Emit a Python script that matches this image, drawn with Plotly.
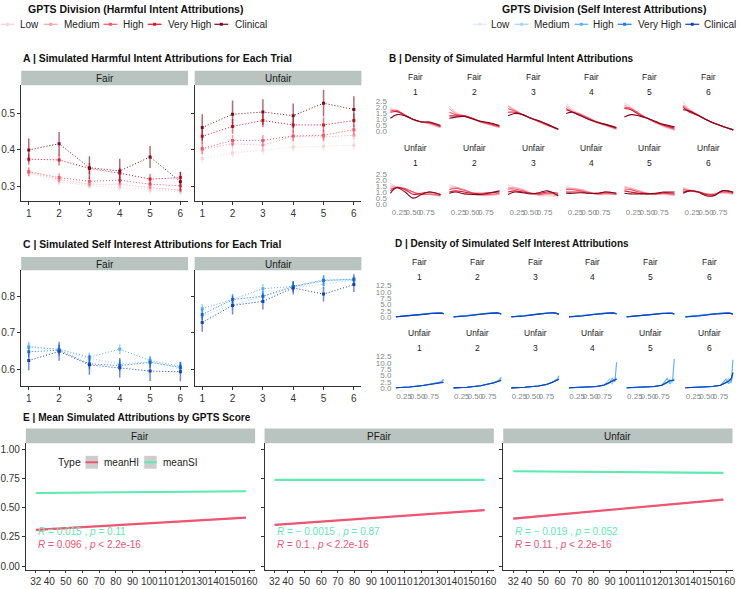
import plotly.graph_objects as go

W, H = 740, 589
FONT = "Liberation Sans, Arial, Helvetica, sans-serif"
DARK = "#333333"
STRIP = "#B9C3BF"
TICKGRAY = "#7F8A8A"

# ---------------- data ----------------
GROUPS = ["Low", "Medium", "High", "Very High", "Clinical"]
HI_COLORS = ["#F9D3D8", "#F7A3AD", "#F4566A", "#E0142E", "#7D0A1C"]
SI_COLORS = ["#DCEAF7", "#9ED8F0", "#57B2F2", "#2478E6", "#1240C2"]
TRIALS = [1, 2, 3, 4, 5, 6]
CONDITIONS = ["Fair", "Unfair"]

# Panel A: harmful intent means / error half-widths (rows = groups Low..Clinical)
HI_FAIR_MEAN = [
    [0.338, 0.314, 0.303, 0.298, 0.291, 0.287],
    [0.340, 0.320, 0.307, 0.307, 0.298, 0.291],
    [0.341, 0.325, 0.315, 0.318, 0.307, 0.303],
    [0.375, 0.373, 0.350, 0.337, 0.321, 0.325],
    [0.400, 0.417, 0.352, 0.343, 0.381, 0.314],
]
HI_FAIR_ERR = [
    [0.009, 0.009, 0.009, 0.010, 0.009, 0.009],
    [0.010, 0.010, 0.010, 0.010, 0.010, 0.010],
    [0.012, 0.012, 0.012, 0.012, 0.012, 0.012],
    [0.015, 0.015, 0.015, 0.015, 0.014, 0.015],
    [0.031, 0.032, 0.031, 0.033, 0.030, 0.027],
]
HI_UNFAIR_MEAN = [
    [0.377, 0.392, 0.399, 0.408, 0.410, 0.413],
    [0.401, 0.417, 0.413, 0.437, 0.435, 0.440],
    [0.404, 0.426, 0.426, 0.438, 0.440, 0.455],
    [0.437, 0.464, 0.480, 0.468, 0.468, 0.480],
    [0.461, 0.497, 0.503, 0.493, 0.527, 0.510],
]
HI_UNFAIR_ERR = [
    [0.012, 0.012, 0.012, 0.012, 0.012, 0.012],
    [0.013, 0.013, 0.013, 0.013, 0.013, 0.013],
    [0.015, 0.015, 0.015, 0.015, 0.015, 0.015],
    [0.020, 0.020, 0.018, 0.020, 0.020, 0.019],
    [0.036, 0.037, 0.035, 0.033, 0.036, 0.036],
]

# Panel C: self interest means / error half-widths
SI_FAIR_MEAN = [
    [0.665, 0.652, 0.625, 0.612, 0.615, 0.600],
    [0.663, 0.654, 0.630, 0.615, 0.620, 0.603],
    [0.660, 0.655, 0.633, 0.655, 0.624, 0.608],
    [0.648, 0.652, 0.615, 0.610, 0.619, 0.605],
    [0.624, 0.649, 0.612, 0.604, 0.595, 0.593],
]
SI_FAIR_ERR = [
    [0.012, 0.012, 0.012, 0.012, 0.012, 0.012],
    [0.013, 0.013, 0.013, 0.013, 0.013, 0.013],
    [0.013, 0.013, 0.013, 0.013, 0.013, 0.013],
    [0.015, 0.015, 0.015, 0.015, 0.015, 0.015],
    [0.027, 0.026, 0.027, 0.027, 0.027, 0.026],
]
SI_UNFAIR_MEAN = [
    [0.760, 0.785, 0.810, 0.826, 0.840, 0.848],
    [0.746, 0.776, 0.800, 0.824, 0.833, 0.845],
    [0.766, 0.791, 0.821, 0.827, 0.845, 0.845],
    [0.750, 0.791, 0.800, 0.827, 0.843, 0.847],
    [0.728, 0.775, 0.786, 0.823, 0.806, 0.832],
]
SI_UNFAIR_ERR = [
    [0.012, 0.012, 0.012, 0.012, 0.012, 0.012],
    [0.013, 0.013, 0.013, 0.013, 0.013, 0.013],
    [0.013, 0.013, 0.013, 0.013, 0.013, 0.013],
    [0.015, 0.015, 0.015, 0.015, 0.015, 0.015],
    [0.025, 0.025, 0.022, 0.018, 0.020, 0.020],
]

# Panel B: density curves of harmful intent (per trial, per group)
HI_DENS_X = [0.08, 0.2, 0.35, 0.5, 0.65, 0.8, 1.0]
HI_DENS_FAIR = [
    [[1.9, 1.7, 1.3, 1.0, 0.8, 0.6, 0.3], [1.85, 1.7, 1.3, 1.0, 0.8, 0.65, 0.35],
     [1.7, 1.75, 1.35, 1.0, 0.8, 0.7, 0.4], [1.6, 1.65, 1.35, 1.0, 0.8, 0.75, 0.45],
     [1.1, 1.4, 1.3, 1.0, 0.8, 0.8, 0.5]],
    [[2.1, 1.6, 1.3, 1.1, 0.8, 0.6, 0.3], [1.9, 1.5, 1.3, 1.1, 0.8, 0.6, 0.35],
     [1.6, 1.4, 1.3, 1.1, 0.8, 0.65, 0.4], [1.3, 1.3, 1.3, 1.1, 0.85, 0.7, 0.45],
     [1.1, 1.2, 1.25, 1.05, 0.85, 0.75, 0.5]],
    [[2.2, 1.8, 1.4, 1.1, 0.8, 0.5, 0.2], [2.1, 1.8, 1.4, 1.1, 0.8, 0.5, 0.2],
     [1.9, 1.7, 1.4, 1.1, 0.85, 0.55, 0.2], [1.6, 1.6, 1.4, 1.1, 0.85, 0.6, 0.2],
     [1.3, 1.5, 1.4, 1.1, 0.9, 0.6, 0.2]],
    [[2.3, 1.8, 1.4, 1.0, 0.7, 0.5, 0.2], [2.1, 1.7, 1.45, 1.1, 0.75, 0.5, 0.2],
     [1.9, 1.6, 1.4, 1.1, 0.8, 0.55, 0.25], [1.8, 1.6, 1.3, 1.0, 0.8, 0.6, 0.3],
     [1.5, 1.6, 1.3, 1.0, 0.75, 0.6, 0.35]],
    [[2.4, 2.0, 1.5, 1.1, 0.7, 0.4, 0.1], [2.2, 1.9, 1.5, 1.1, 0.75, 0.45, 0.15],
     [2.0, 1.9, 1.5, 1.1, 0.8, 0.5, 0.2], [1.9, 1.8, 1.4, 1.1, 0.8, 0.55, 0.3],
     [1.2, 1.4, 1.3, 1.1, 0.85, 0.6, 0.4]],
    [[2.5, 1.8, 1.4, 1.0, 0.7, 0.45, 0.15], [2.2, 1.8, 1.4, 1.0, 0.7, 0.45, 0.15],
     [2.1, 1.7, 1.4, 1.0, 0.7, 0.45, 0.15], [2.0, 1.6, 1.35, 1.0, 0.7, 0.45, 0.15],
     [1.8, 1.7, 1.35, 1.0, 0.7, 0.45, 0.15]],
]
HI_DENS_UNFAIR = [
    [[1.7, 1.4, 1.2, 0.9, 0.8, 0.8, 0.6], [1.5, 1.4, 1.3, 1.0, 0.8, 0.8, 0.7],
     [1.3, 1.35, 1.3, 1.0, 0.8, 0.85, 0.7], [1.1, 1.4, 1.2, 0.8, 0.9, 1.0, 0.8],
     [0.9, 1.35, 1.0, 0.5, 0.8, 1.0, 0.8]],
    [[1.6, 1.4, 1.2, 0.9, 0.7, 0.7, 0.8], [1.4, 1.4, 1.2, 0.9, 0.75, 0.75, 0.85],
     [1.2, 1.3, 1.15, 0.95, 0.8, 0.8, 0.9], [1.0, 1.1, 1.0, 0.9, 0.9, 0.95, 1.0],
     [0.9, 1.0, 0.85, 0.8, 0.8, 0.9, 1.1]],
    [[1.6, 1.4, 1.2, 0.9, 0.7, 0.7, 0.6], [1.4, 1.35, 1.2, 0.9, 0.75, 0.8, 0.7],
     [1.25, 1.25, 1.1, 0.9, 0.8, 0.9, 0.8], [1.0, 1.1, 1.0, 0.9, 0.9, 1.0, 0.9],
     [0.8, 1.0, 0.95, 0.85, 0.95, 1.1, 0.7]],
    [[1.5, 1.3, 1.2, 1.0, 0.8, 0.8, 0.8], [1.3, 1.3, 1.2, 1.0, 0.8, 0.85, 0.8],
     [1.2, 1.2, 1.1, 0.95, 0.85, 0.9, 0.8], [1.0, 1.0, 1.0, 0.9, 0.9, 1.0, 0.9],
     [0.9, 0.9, 0.95, 0.9, 0.9, 1.0, 0.9]],
    [[1.5, 1.35, 1.1, 0.9, 0.8, 0.8, 0.7], [1.4, 1.3, 1.1, 0.9, 0.85, 0.85, 0.75],
     [1.25, 1.2, 1.0, 0.9, 0.85, 0.9, 0.8], [1.1, 1.0, 0.9, 0.85, 0.85, 0.95, 0.9],
     [0.9, 0.85, 0.85, 0.85, 0.9, 1.0, 1.0]],
    [[1.4, 1.2, 1.0, 0.8, 0.9, 0.9, 0.8], [1.3, 1.15, 1.0, 0.85, 0.85, 0.95, 0.85],
     [1.2, 1.1, 1.0, 0.85, 0.8, 1.0, 0.9], [1.0, 1.1, 1.05, 0.8, 0.75, 1.1, 0.95],
     [0.9, 1.1, 1.0, 0.7, 0.7, 1.1, 1.0]],
]

# Panel D: density curves of self interest
SI_DENS_X = [0.1, 0.35, 0.6, 0.75, 0.85, 0.9, 0.95, 0.98]
SI_DENS_FAIR = [
    [[0.3, 0.7, 1.3, 1.6, 1.8, 1.75, 1.6, 1.3], [0.3, 0.7, 1.3, 1.65, 1.8, 1.8, 1.6, 1.35],
     [0.3, 0.7, 1.25, 1.6, 1.8, 1.8, 1.65, 1.4], [0.3, 0.65, 1.2, 1.6, 1.75, 1.8, 1.7, 1.45],
     [0.25, 0.6, 1.2, 1.55, 1.75, 1.8, 1.7, 1.5]],
    [[0.3, 0.7, 1.4, 1.8, 1.9, 1.8, 1.5, 1.2], [0.3, 0.7, 1.35, 1.75, 1.9, 1.8, 1.55, 1.25],
     [0.3, 0.7, 1.3, 1.7, 1.85, 1.8, 1.6, 1.3], [0.3, 0.65, 1.3, 1.7, 1.85, 1.8, 1.6, 1.35],
     [0.25, 0.6, 1.25, 1.65, 1.85, 1.8, 1.65, 1.4]],
    [[0.3, 0.7, 1.4, 1.8, 1.9, 1.8, 1.5, 1.2], [0.3, 0.7, 1.4, 1.8, 1.9, 1.8, 1.5, 1.2],
     [0.3, 0.7, 1.35, 1.75, 1.9, 1.8, 1.55, 1.25], [0.3, 0.65, 1.3, 1.7, 1.85, 1.8, 1.6, 1.3],
     [0.25, 0.6, 1.3, 1.7, 1.85, 1.8, 1.6, 1.3]],
    [[0.3, 0.7, 1.35, 1.7, 1.85, 1.8, 1.6, 1.3], [0.3, 0.7, 1.35, 1.7, 1.85, 1.8, 1.6, 1.3],
     [0.3, 0.7, 1.3, 1.7, 1.8, 1.8, 1.6, 1.35], [0.3, 0.65, 1.3, 1.65, 1.8, 1.8, 1.65, 1.4],
     [0.25, 0.6, 1.25, 1.6, 1.8, 1.8, 1.65, 1.45]],
    [[0.3, 0.7, 1.3, 1.65, 1.8, 1.75, 1.5, 1.2], [0.3, 0.7, 1.3, 1.65, 1.8, 1.75, 1.5, 1.25],
     [0.3, 0.7, 1.3, 1.6, 1.75, 1.75, 1.55, 1.3], [0.3, 0.65, 1.25, 1.6, 1.75, 1.75, 1.6, 1.3],
     [0.25, 0.6, 1.2, 1.55, 1.7, 1.75, 1.6, 1.35]],
    [[0.3, 0.7, 1.35, 1.7, 1.75, 1.7, 1.5, 1.2], [0.3, 0.7, 1.35, 1.7, 1.75, 1.7, 1.5, 1.2],
     [0.3, 0.7, 1.3, 1.65, 1.75, 1.7, 1.55, 1.25], [0.3, 0.65, 1.3, 1.65, 1.7, 1.7, 1.55, 1.3],
     [0.25, 0.6, 1.25, 1.6, 1.7, 1.7, 1.6, 1.3]],
]
SI_DENS_UNFAIR = [
    [[0.15, 0.4, 1.0, 1.5, 2.0, 2.4, 2.9, 3.4], [0.15, 0.4, 1.0, 1.5, 2.0, 2.3, 2.7, 3.1],
     [0.15, 0.4, 1.0, 1.5, 2.0, 2.3, 2.6, 3.6], [0.15, 0.4, 1.0, 1.5, 1.95, 2.2, 2.4, 2.4],
     [0.15, 0.4, 1.0, 1.5, 1.9, 2.1, 2.2, 2.2]],
    [[0.1, 0.3, 0.9, 1.5, 2.2, 2.8, 3.5, 4.2], [0.1, 0.3, 0.9, 1.5, 2.2, 2.7, 3.3, 4.0],
     [0.1, 0.3, 0.9, 1.5, 2.2, 2.6, 3.1, 4.3], [0.1, 0.3, 0.9, 1.5, 2.1, 2.5, 3.0, 3.2],
     [0.1, 0.3, 0.9, 1.5, 2.1, 2.5, 2.9, 3.0]],
    [[0.1, 0.3, 0.8, 1.4, 2.3, 3.0, 3.8, 4.9], [0.1, 0.3, 0.8, 1.4, 2.3, 2.9, 3.6, 4.5],
     [0.1, 0.3, 0.8, 1.4, 2.2, 2.8, 3.4, 4.9], [0.1, 0.3, 0.8, 1.4, 2.2, 2.7, 3.3, 3.6],
     [0.1, 0.3, 0.8, 1.4, 2.2, 2.7, 3.2, 3.4]],
    [[0.1, 0.2, 0.5, 1.0, 2.0, 2.6, 3.0, 3.4], [0.1, 0.2, 0.6, 1.2, 3.6, 1.5, 4.2, 3.5],
     [0.1, 0.2, 0.5, 1.0, 2.0, 3.8, 2.5, 10.2], [0.1, 0.25, 0.6, 1.2, 2.4, 2.9, 3.4, 3.6],
     [0.1, 0.25, 0.6, 1.2, 2.3, 2.8, 3.3, 3.5]],
    [[0.1, 0.2, 0.5, 1.0, 2.2, 2.8, 3.0, 3.2], [0.1, 0.2, 0.6, 1.0, 2.0, 3.5, 2.4, 4.0],
     [0.1, 0.2, 0.5, 1.2, 3.8, 1.6, 3.2, 11.5], [0.1, 0.2, 0.6, 1.1, 2.3, 2.9, 3.1, 3.1],
     [0.1, 0.2, 0.6, 1.1, 2.3, 2.9, 3.1, 3.1]],
    [[0.1, 0.2, 0.6, 1.1, 2.1, 2.7, 3.4, 4.5], [0.1, 0.2, 0.6, 1.2, 2.0, 4.0, 2.0, 5.0],
     [0.1, 0.2, 0.6, 1.0, 3.5, 1.8, 2.5, 11.2], [0.1, 0.2, 0.6, 1.1, 2.2, 2.7, 3.7, 5.9],
     [0.1, 0.2, 0.6, 1.1, 2.2, 2.7, 3.8, 6.2]],
]

# Panel E: linear fits of mean attributions by GPTS score
E_FACETS = ["Fair", "PFair", "Unfair"]
E_X = [32, 158]
E_TYPES = ["meanHI", "meanSI"]
E_TYPE_COLORS = ["#EF5470", "#5EEAB0"]
E_HI_FIT = [[0.310, 0.414], [0.352, 0.479], [0.406, 0.569]]
E_SI_FIT = [[0.625, 0.640], [0.738, 0.737], [0.811, 0.797]]
E_HI_CI = [0.007, 0.007, 0.009]
E_SI_CI = [0.004, 0.004, 0.005]
E_SI_LABELS = ["<i>R</i> = 0.015 , <i>p</i> = 0.11",
               "<i>R</i> = \u2212 0.0015 , <i>p</i> = 0.87",
               "<i>R</i> = \u2212 0.019 , <i>p</i> = 0.052"]
E_HI_LABELS = ["<i>R</i> = 0.096 , <i>p</i> < 2.2e-16",
               "<i>R</i> = 0.1 , <i>p</i> < 2.2e-16",
               "<i>R</i> = 0.11 , <i>p</i> < 2.2e-16"]
E_XTICKS = [32, 40, 50, 60, 70, 80, 90, 100, 110, 120, 130, 140, 150, 160]


# ---------------- helpers ----------------
def fx(px):
    return px / W


def fy(py):
    return 1 - py / H


def rgba(hex_color, a):
    h = hex_color.lstrip("#")
    r, g, b = int(h[0:2], 16), int(h[2:4], 16), int(h[4:6], 16)
    return f"rgba({r},{g},{b},{a})"


layout = {}
traces = []
shapes = []
annotations = []
_count = [0]

BASE_AX = dict(showgrid=False, zeroline=False, showline=False, ticks="",
               showticklabels=False, fixedrange=True)


def new_axes(x0, x1, y0, y1, xr, yr, xopts=None, yopts=None):
    _count[0] += 1
    n = _count[0]
    s = "" if n == 1 else str(n)
    xa = dict(BASE_AX, domain=[fx(x0), fx(x1)], range=xr, anchor="y" + s)
    ya = dict(BASE_AX, domain=[fy(y1), fy(y0)], range=yr, anchor="x" + s)
    xa.update(xopts or {})
    ya.update(yopts or {})
    layout["xaxis" + s] = xa
    layout["yaxis" + s] = ya
    return "x" + s, "y" + s


def text(x, y, s, size, color=DARK, bold=False, xanchor="center"):
    if bold:
        s = "<b>" + s + "</b>"
    annotations.append(dict(x=fx(x), y=fy(y), xref="paper", yref="paper", text=s,
                            showarrow=False, xanchor=xanchor, yanchor="middle",
                            font=dict(size=size, color=color, family=FONT)))


def strip(x0, x1, y0, y1, label, size=10):
    shapes.append(dict(type="rect", xref="paper", yref="paper", x0=fx(x0), x1=fx(x1),
                       y0=fy(y1), y1=fy(y0), fillcolor=STRIP, line=dict(width=0),
                       layer="below"))
    text((x0 + x1) / 2, (y0 + y1) / 2 + 0.5, label, size, color="#1A1A1A")


def classic(tickvals, ticktext, labels=True, size=10, ticklen=3):
    return dict(showline=True, linecolor=DARK, linewidth=1, ticks="outside",
                ticklen=ticklen, tickwidth=1, tickcolor=DARK, tickvals=tickvals,
                ticktext=ticktext, showticklabels=labels, tickangle=0,
                tickfont=dict(size=size, color=DARK, family=FONT))


# ---------------- top legends ----------------
def legend_row(title, title_x, key_xs, text_xs, colors):
    text(title_x, 6.5, title, 10.5, color="#111111", bold=True)
    for kx, tx, name, col in zip(key_xs, text_xs, GROUPS, colors):
        shapes.append(dict(type="line", xref="paper", yref="paper", x0=fx(kx - 7),
                           x1=fx(kx + 7), y0=fy(21.5), y1=fy(21.5),
                           line=dict(color=col, width=1.2)))
        shapes.append(dict(type="rect", xref="paper", yref="paper", x0=fx(kx - 1.5),
                           x1=fx(kx + 1.5), y0=fy(23), y1=fy(20),
                           fillcolor=col, line=dict(width=0)))
        text(tx, 21.5, name, 10, color="#222222", xanchor="left")


legend_row("GPTS Division (Harmful Intent Attributions)", 135,
           [6.5, 50, 110, 154.5, 221.5], [17.5, 61, 121, 166, 233.5], HI_COLORS)
legend_row("GPTS Division (Self Interest Attributions)", 606.5,
           [481.5, 523.5, 583.5, 627, 695], [490.5, 533.5, 593.5, 638.5, 705], SI_COLORS)


# ---------------- panels A & C ----------------
def trial_panel(title, title_y, strip_y0, top, bottom, yr, ytick, data, errs, colors):
    text(20, title_y, title, 10.4, color="#111111", bold=True, xanchor="left")
    domains = [(20.3, 188), (194.7, 362.4)]
    for ci, (cond, (x0, x1)) in enumerate(zip(CONDITIONS, domains)):
        strip(x0, x1, strip_y0, top, cond)
        xa, ya = new_axes(x0, x1, top, bottom, [0.75, 6.25], yr,
                          classic(TRIALS, [str(t) for t in TRIALS]),
                          classic(ytick, [f"{v:.1f}" for v in ytick], labels=(ci == 0)))
        for g in range(len(GROUPS)):
            col = colors[g]
            traces.append(go.Scatter(
                x=TRIALS, y=data[ci][g], xaxis=xa, yaxis=ya, mode="lines+markers",
                line=dict(color=col, width=1.0, dash="1px,2px"),
                marker=dict(color=col, size=3, symbol="square"),
                error_y=dict(type="data", array=errs[ci][g], color=rgba(col, 0.6),
                             thickness=1.5, width=0),
                showlegend=False, hoverinfo="skip"))


trial_panel("A | Simulated Harmful Intent Attributions for Each Trial", 56.5, 68.5, 83, 200,
            [0.2616, 0.576], [0.3, 0.4, 0.5], [HI_FAIR_MEAN, HI_UNFAIR_MEAN],
            [HI_FAIR_ERR, HI_UNFAIR_ERR], HI_COLORS)
trial_panel("C | Simulated Self Interest Attributions for Each Trial", 244, 256.7, 270, 386.5,
            [0.5552, 0.8714], [0.6, 0.7, 0.8], [SI_FAIR_MEAN, SI_UNFAIR_MEAN],
            [SI_FAIR_ERR, SI_UNFAIR_ERR], SI_COLORS)


# ---------------- panels B & D ----------------
def density_panel(title, title_x, title_y, centers, width, rows, xs, dens, colors,
                  yr, ytickvals, yticktext, shape):
    text(title_x, title_y, title, 10, color="#111111", bold=True, xanchor="left")
    for ri, (cond, strip_y, num_y, top, bottom, xlabels) in enumerate(rows):
        for ti, cx in enumerate(centers):
            text(cx, strip_y, cond, 8.5, color="#222222")
            text(cx, num_y, str(TRIALS[ti]), 8.5, color="#222222")
            xopts = dict(tickvals=[0.25, 0.5, 0.75], ticktext=["0.25", "0.50", "0.75"],
                         showticklabels=xlabels, tickangle=0,
                         tickfont=dict(size=8, color=TICKGRAY, family=FONT))
            yopts = dict(tickvals=ytickvals, ticktext=yticktext,
                         showticklabels=(ti == 0),
                         tickfont=dict(size=8, color=TICKGRAY, family=FONT))
            xa, ya = new_axes(cx - width / 2, cx + width / 2, top, bottom,
                              [0.034, 1.046], yr, xopts, yopts)
            for g in range(len(GROUPS)):
                traces.append(go.Scatter(
                    x=xs, y=dens[ri][ti][g], xaxis=xa, yaxis=ya, mode="lines",
                    line=dict(color=colors[g], width=1.1, shape=shape),
                    showlegend=False, hoverinfo="skip"))


density_panel("B | Density of Simulated Harmful Intent Attributions", 388, 55.7,
              [416.7, 476, 535, 593.5, 652, 711], 55.5,
              [("Fair", 74.3, 90, 97.8, 131.6, False),
               ("Unfair", 146, 161.7, 171.1, 204.9, True)],
              HI_DENS_X, [HI_DENS_FAIR, HI_DENS_UNFAIR], HI_COLORS,
              [-0.13, 2.62], [0, 0.5, 1.0, 1.5, 2.0, 2.5],
              ["0.0", "0.5", "1.0", "1.5", "2.0", "2.5"], "spline")
density_panel("D | Density of Simulated Self Interest Attributions", 394, 242.7,
              [421, 479, 537, 595, 653, 712], 55,
              [("Fair", 261.7, 277.3, 284, 319.4, False),
               ("Unfair", 333.3, 349, 355.8, 390.7, True)],
              SI_DENS_X, [SI_DENS_FAIR, SI_DENS_UNFAIR], SI_COLORS,
              [-0.65, 13.0], [0, 2.5, 5, 7.5, 10, 12.5],
              ["0.0", "2.5", "5.0", "7.5", "10.0", "12.5"], "linear")


# ---------------- panel E ----------------
text(20, 419, "E | Mean Simulated Attributions by GPTS Score", 10.1, color="#111111",
     bold=True, xanchor="left")
E_DOMAINS = [(25, 255.5), (265, 495.5), (505, 735.5)]
for fi, (facet, (x0, x1)) in enumerate(zip(E_FACETS, E_DOMAINS)):
    strip(x0, x1, 430, 444.8, facet)
    xa, ya = new_axes(x0, x1, 444.8, 572.5, [26, 163.5], [-0.03, 1.05],
                      classic(E_XTICKS, [str(v) for v in E_XTICKS], ticklen=2.5),
                      classic([0, 0.25, 0.5, 0.75, 1.0],
                              ["0.00", "0.25", "0.50", "0.75", "1.00"], labels=(fi == 0)))
    for fit, ci, col in ((E_HI_FIT[fi], E_HI_CI[fi], E_TYPE_COLORS[0]),
                         (E_SI_FIT[fi], E_SI_CI[fi], E_TYPE_COLORS[1])):
        xm = (E_X[0] + E_X[1]) / 2
        ym = (fit[0] + fit[1]) / 2
        bx = [E_X[0], xm, E_X[1], E_X[1], xm, E_X[0]]
        by = [fit[0] + ci, ym + ci * 0.4, fit[1] + ci, fit[1] - ci, ym - ci * 0.4, fit[0] - ci]
        traces.append(go.Scatter(x=bx, y=by, xaxis=xa, yaxis=ya, mode="lines",
                                 fill="toself", fillcolor="rgba(140,140,140,0.4)",
                                 line=dict(width=0), showlegend=False, hoverinfo="skip"))
        traces.append(go.Scatter(x=E_X, y=fit, xaxis=xa, yaxis=ya, mode="lines",
                                 line=dict(color=col, width=2.2),
                                 showlegend=False, hoverinfo="skip"))
    for lbl, yv, col in ((E_SI_LABELS[fi], 0.293, E_TYPE_COLORS[1]),
                         (E_HI_LABELS[fi], 0.183, E_TYPE_COLORS[0])):
        annotations.append(dict(x=E_X[0], y=yv, xref=xa, yref=ya, text=lbl,
                                showarrow=False, xanchor="left", yanchor="middle",
                                font=dict(size=10, color=col, family=FONT)))

# E legend (inside Fair facet)
text(55, 464, "Type", 10.5, color="#222222", xanchor="left")
for (kx0, kx1, tx), name, col in zip([(85, 97.5, 101.5), (144, 156.5, 160.5)],
                                     E_TYPES, E_TYPE_COLORS):
    shapes.append(dict(type="rect", xref="paper", yref="paper", x0=fx(kx0), x1=fx(kx1),
                       y0=fy(470.5), y1=fy(457.5), fillcolor="#CDCDCD", line=dict(width=0)))
    shapes.append(dict(type="line", xref="paper", yref="paper", x0=fx(kx0), x1=fx(kx1),
                       y0=fy(464), y1=fy(464), line=dict(color=col, width=2)))
    text(tx, 464, name, 10, color="#222222", xanchor="left")

fig = go.Figure(data=traces)
fig.update_layout(**layout)
fig.update_layout(width=W, height=H, margin=dict(l=0, r=0, t=0, b=0),
                  paper_bgcolor="white", plot_bgcolor="white", showlegend=False,
                  hovermode=False, shapes=shapes, annotations=annotations,
                  font=dict(family=FONT, color=DARK))
fig.write_html("out.html", config={"displayModeBar": False},
               post_script="document.body.style.margin='0px';"
                           "document.body.style.overflow='hidden';")
